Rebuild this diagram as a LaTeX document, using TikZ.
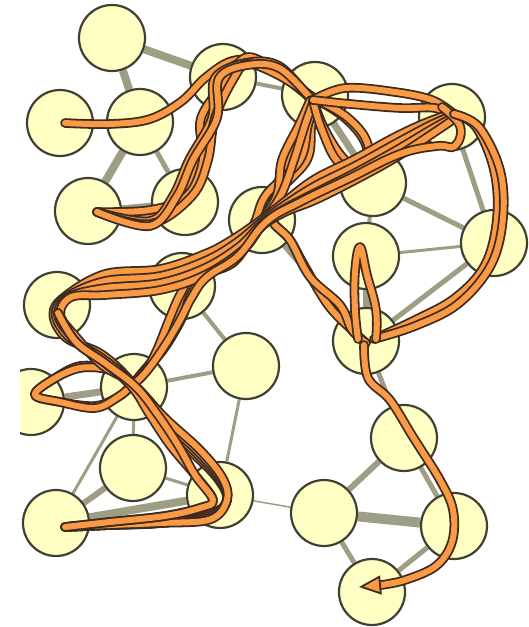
\documentclass[tikz,border=0pt]{standalone}
\usetikzlibrary{arrows.meta,backgrounds}
\definecolor{disk}{HTML}{FFFFC4}
\definecolor{ringline}{HTML}{3F3F33}
\definecolor{linkgrey}{HTML}{9D9E83}
\definecolor{rope}{HTML}{FB9A45}
\definecolor{ropeline}{HTML}{3D2B1F}

\begin{document}
\begin{tikzpicture}[
x=1pt,y=-1pt,
site/.style={circle,draw=ringline,fill=disk,line width=2.2pt,
minimum size=66pt,inner sep=0pt},
link/.style={draw=linkgrey,line width=#1},
link/.default=5pt,
strand/.style={draw=ropeline,line width=1.8pt,double=rope,
double distance=6pt,line cap=round,line join=round},
ropehead/.style={draw=ropeline,line width=1.8pt,
-{Triangle[length=22pt,width=19pt,fill=rope]}}
]
\useasboundingbox (0,0) rectangle (528,627);
\clip (20,0) rectangle (528,627);

\node[site] (v1)  at (112,38)  {};
\node[site] (v2)  at (223,77)  {};
\node[site] (v3)  at (60,123)  {};
\node[site] (v4)  at (140,122) {};
\node[site] (v5)  at (88,211)  {};
\node[site] (v6)  at (185,202) {};
\node[site] (v7)  at (315,95)  {};
\node[site] (v8)  at (452,117) {};
\node[site] (v9)  at (373,183) {};
\node[site] (v10) at (494,243) {};
\node[site] (v11) at (366,256) {};
\node[site] (v12) at (262,220) {};
\node[site] (v13) at (366,341) {};
\node[site] (v14) at (404,438) {};
\node[site] (v15) at (324,513) {};
\node[site] (v16) at (454,526) {};
\node[site] (v17) at (372,592) {};
\node[site] (v18) at (182,286) {};
\node[site] (v19) at (57,305)  {};
\node[site] (v20) at (246,366) {};
\node[site] (v21) at (31,402)  {};
\node[site] (v22) at (134,387) {};
\node[site] (v23) at (133,468) {};
\node[site] (v24) at (56,523)  {};
\node[site] (v25) at (220,495) {};

% grey links behind the sites
\begin{scope}[on background layer]
\foreach \a/\b/\w in {1/2/8,1/4/8,2/4/4,2/6/4,2/7/4,3/4/4,4/5/8,4/6/5,
5/6/5,7/8/3,7/9/7,8/10/5,9/10/5,9/11/4,10/11/3,10/13/5,11/13/7,
12/13/5,13/14/5,14/15/6,14/16/5,15/16/10,15/17/5,16/17/5,15/25/1.5,
18/20/4,20/22/4,21/22/7,22/23/3,22/24/3,23/24/6,24/25/8,23/25/3,20/25/3}
\draw[link=\w pt] (v\a) -- (v\b);
\end{scope}

% the rope, pass by pass
\draw[strand] plot[smooth,tension=0.6] coordinates {([shift={(5,0)}]v3.center)
(110,124) (150,119) (182,101) (205,78) (232,61) (262,62) (288,80)
([shift={(-2,5)}]v7.center)};
\foreach \a/\b in {0/0,7/-6,-7/5,12/8,-3/10}
\draw[strand] plot[smooth,tension=0.6] coordinates {([shift={(9,1)}]v5.center)
(150,216+\b) (180+\a,196) (196+\a,160) (207+\b,118) (222+\a,78)
(248,60+\b/2) (280,70+\a/2) ([shift={(-2+\a/3,5)}]v7.center)};
% down to v13
\foreach \a/\b/\c in {0/0/0,17/4/12}
\draw[strand] plot[smooth,tension=0.6] coordinates {([shift={(-2+\a/3,5)}]v7.center)
(303+\a/2,125) (290+\a,160) (272+\b,195) (272,220) (290,240) (304+\c/2,265+\c)
(328+\c,305) (352,330) ([shift={(0,2)}]v13.center)};
% down to v18, v22 and round v21
\foreach \a/\b/\c in {10/-6/0,-8/5/6}
\draw[strand] plot[smooth,tension=0.6] coordinates {([shift={(-2+\a/3,5)}]v7.center)
(303+\a/2,125) (290+\a,160) (272+\b,195) (257+\b/2,224) (235,255+\c)
(200+\c,275) (185+\c,295) (175+\c,320) (160+\c/2,350) (143,372) (131,386)
(118,397) (95,406+\c/3) (60,402) (35,395) (52,380) (80,366+\c/3) (110,370)
([shift={(0,-4)}]v22.center)};
\draw[strand] plot[smooth,tension=0.6] coordinates {([shift={(-1,5)}]v7.center)
(305,125) (294,160) (281,195) (262,222) (235,249) (194,275) (180,295)
(169,320) (157,350) (145,372) ([shift={(-1,-4)}]v22.center)};
\foreach \a in {0,6}
\draw[strand] plot[smooth,tension=0.7] coordinates {([shift={(-2,5)}]v7.center)
(325-\a/2,130) (345-\a,160+\a/2) (364,170+\a/2) (366+\a/3,145) (345+\a/2,118)
([shift={(0,4)}]v7.center)};
\draw[strand] plot[smooth,tension=0.6] coordinates {([shift={(-2,5)}]v7.center)
(345,88) (395,92) (432,100) ([shift={(2,-3)}]v8.center)};
\draw[strand] plot[smooth,tension=0.6] coordinates {([shift={(-2,5)}]v7.center)
(350,104) (400,108) (435,108) (v8.center)};
% the broad band, on round v19 and down to v24
\foreach \a in {-11,-4,3,10}
\draw[strand] plot[smooth,tension=0.6] coordinates {([shift={(0,\a/3)}]v8.center)
(430+\a/3,128+\a/2) (395,148+\a) (355,170+\a) (315,190+\a) (285,207+\a/2)
(262,223+\a/3) (238+\a/2,245+\a/2) (205,265+\a) (160,280+\a) (105,285+\a)
(68+\a/3,297) (57+\a/3,315) (72+\a/2,338) (102,360+\a/2) (133,384)
(160+\a/2,418) (195+\a/2,450) (220+\a/4,478) (227,500) (210,517+\a/4)
(160,523) (110,525) ([shift={(9,4)}]v24.center)};
\draw[strand] plot[smooth,tension=0.7] coordinates {([shift={(-10,-10)}]v8.center)
(460,126) (455,146) (437,146) (400,154) (350,178) (300,202) (266,222)
(238,256) (207,277) (192,297) (179,322) (162,350) (146,372)
([shift={(1,-4)}]v22.center)};
\foreach \a in {0,8}
\draw[strand] plot[smooth,tension=0.6] coordinates {([shift={(9,4)}]v24.center)
(110,522) (165,516) (200,508) (213,500) (195,475) (170+\a,445) (150+\a,415)
(132+\a/2,387) (105,363) (76,342) ([shift={(1,8)}]v19.center)};
% right-hand arc and the last run
\foreach \a in {0,6}
\draw[strand] plot[smooth,tension=0.6] coordinates {([shift={(2,-3)}]v8.center)
(476+\a/2,127) (494+\a,170) (497+\a,218) (485+\a,265) (455+\a/2,298+\a)
(415,320+\a) ([shift={(8,-2)}]v13.center)};
\draw[strand] plot[smooth,tension=0.7] coordinates {([shift={(-8,-2)}]v13.center)
(355,310) (355,272) (360,247) (367,275) (376,310) ([shift={(10,-2)}]v13.center)};
\draw[strand] plot[smooth,tension=0.6] coordinates {([shift={(-2,4)}]v13.center)
(368,378) (390,400) (413,437) (440,480) (453,510) (452,542) (436,566)
(405,580) (381,585)};
\draw[ropehead] (381,585) -- ([shift={(-13,-5)}]v17.center);
\end{tikzpicture}
\end{document}
